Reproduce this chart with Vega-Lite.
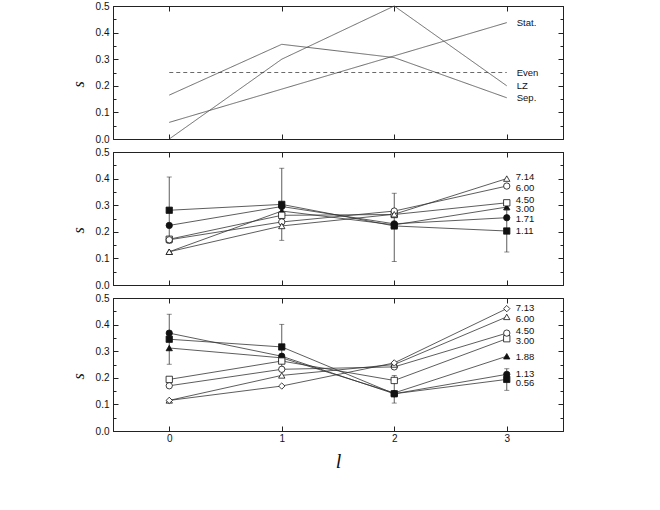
{
  "$schema": "https://vega.github.io/schema/vega-lite/v6.json",
  "background": "white",
  "padding": {"left": 69, "top": 0, "right": 5, "bottom": 5},
  "spacing": 13,
  "bounds": "flush",
  "config": {
    "view": {"stroke": "#222", "strokeWidth": 1},
    "axis": {"domainColor": "#222", "tickColor": "#222", "labelFont": "Liberation Sans", "labelFontSize": 10, "labelColor": "#111", "grid": false, "titleFont": "Liberation Serif", "titleFontStyle": "italic", "titleFontWeight": "normal", "titleColor": "#111", "labelFlush": false},
    "text": {"font": "Liberation Sans", "fontSize": 9.5, "color": "#111"}
  },
  "resolve": {"scale": {"shape": "independent", "fill": "independent", "strokeDash": "independent"}},
  "datasets": {
    "top": [
      {"l": 0, "s": 0.0625, "series": "Stat."}, {"l": 1, "s": 0.1875, "series": "Stat."}, {"l": 2, "s": 0.3125, "series": "Stat."}, {"l": 3, "s": 0.4375, "series": "Stat."},
      {"l": 0, "s": 0.25, "series": "Even"}, {"l": 1, "s": 0.25, "series": "Even"}, {"l": 2, "s": 0.25, "series": "Even"}, {"l": 3, "s": 0.25, "series": "Even"},
      {"l": 0, "s": 0.0, "series": "LZ"}, {"l": 1, "s": 0.3, "series": "LZ"}, {"l": 2, "s": 0.5, "series": "LZ"}, {"l": 3, "s": 0.2, "series": "LZ"},
      {"l": 0, "s": 0.165, "series": "Sep."}, {"l": 1, "s": 0.356, "series": "Sep."}, {"l": 2, "s": 0.306, "series": "Sep."}, {"l": 3, "s": 0.155, "series": "Sep."}
    ],
    "mid": [
      {"l": 0, "s": 0.281, "series": "1.11"}, {"l": 1, "s": 0.303, "series": "1.11"}, {"l": 2, "s": 0.222, "series": "1.11"}, {"l": 3, "s": 0.203, "series": "1.11"},
      {"l": 0, "s": 0.224, "series": "1.71"}, {"l": 1, "s": 0.295, "series": "1.71"}, {"l": 2, "s": 0.23, "series": "1.71"}, {"l": 3, "s": 0.253, "series": "1.71"},
      {"l": 0, "s": 0.125, "series": "3.00"}, {"l": 1, "s": 0.278, "series": "3.00"}, {"l": 2, "s": 0.226, "series": "3.00"}, {"l": 3, "s": 0.293, "series": "3.00"},
      {"l": 0, "s": 0.172, "series": "4.50"}, {"l": 1, "s": 0.262, "series": "4.50"}, {"l": 2, "s": 0.265, "series": "4.50"}, {"l": 3, "s": 0.309, "series": "4.50"},
      {"l": 0, "s": 0.17, "series": "6.00"}, {"l": 1, "s": 0.237, "series": "6.00"}, {"l": 2, "s": 0.278, "series": "6.00"}, {"l": 3, "s": 0.372, "series": "6.00"},
      {"l": 0, "s": 0.125, "series": "7.14"}, {"l": 1, "s": 0.222, "series": "7.14"}, {"l": 2, "s": 0.266, "series": "7.14"}, {"l": 3, "s": 0.4, "series": "7.14"}
    ],
    "miderr": [
      {"l": 0, "lo": 0.156, "hi": 0.406}, {"l": 1, "lo": 0.168, "hi": 0.439}, {"l": 2, "lo": 0.088, "hi": 0.345}, {"l": 3, "lo": 0.124, "hi": 0.282}
    ],
    "bot": [
      {"l": 0, "s": 0.345, "series": "0.56"}, {"l": 1, "s": 0.316, "series": "0.56"}, {"l": 2, "s": 0.14, "series": "0.56"}, {"l": 3, "s": 0.194, "series": "0.56"},
      {"l": 0, "s": 0.368, "series": "1.13"}, {"l": 1, "s": 0.281, "series": "1.13"}, {"l": 2, "s": 0.14, "series": "1.13"}, {"l": 3, "s": 0.213, "series": "1.13"},
      {"l": 0, "s": 0.312, "series": "1.88"}, {"l": 1, "s": 0.275, "series": "1.88"}, {"l": 2, "s": 0.143, "series": "1.88"}, {"l": 3, "s": 0.281, "series": "1.88"},
      {"l": 0, "s": 0.194, "series": "3.00"}, {"l": 1, "s": 0.263, "series": "3.00"}, {"l": 2, "s": 0.19, "series": "3.00"}, {"l": 3, "s": 0.347, "series": "3.00"},
      {"l": 0, "s": 0.17, "series": "4.50"}, {"l": 1, "s": 0.232, "series": "4.50"}, {"l": 2, "s": 0.241, "series": "4.50"}, {"l": 3, "s": 0.368, "series": "4.50"},
      {"l": 0, "s": 0.115, "series": "6.00"}, {"l": 1, "s": 0.209, "series": "6.00"}, {"l": 2, "s": 0.25, "series": "6.00"}, {"l": 3, "s": 0.429, "series": "6.00"},
      {"l": 0, "s": 0.115, "series": "7.13"}, {"l": 1, "s": 0.169, "series": "7.13"}, {"l": 2, "s": 0.256, "series": "7.13"}, {"l": 3, "s": 0.46, "series": "7.13"}
    ],
    "boterr": [
      {"l": 0, "lo": 0.251, "hi": 0.439}, {"l": 1, "lo": 0.231, "hi": 0.401}, {"l": 2, "lo": 0.105, "hi": 0.209}, {"l": 3, "lo": 0.153, "hi": 0.234}
    ]
  },
  "vconcat": [
    {
      "width": 450, "height": 133,
      "data": {"name": "top"},
      "layer": [
        {
          "mark": {"type": "line", "strokeWidth": 0.8, "color": "#444"},
          "encoding": {
            "x": {"field": "l", "type": "quantitative", "scale": {"domain": [-0.5, 3.5], "nice": false, "zero": false}, "axis": {"orient": "bottom", "values": [0, 1, 2, 3], "tickSize": -5, "labels": false, "title": null}},
            "y": {"field": "s", "type": "quantitative", "scale": {"domain": [0, 0.5], "nice": false}, "axis": {"orient": "left", "values": [0, 0.05, 0.1, 0.15, 0.2, 0.25, 0.3, 0.35, 0.4, 0.45, 0.5], "labelExpr": "round(datum.value*100) % 10 == 0 ? format(datum.value, '.1f') : ''", "tickSize": {"condition": {"test": "round(datum.value*100) % 10 == 0", "value": -5}, "value": -3}, "labelPadding": 9, "title": "s", "titleFontSize": 16, "titleY": 78, "titlePadding": 9}},
            "detail": {"field": "series"},
            "strokeDash": {"field": "series", "type": "nominal", "scale": {"domain": ["Stat.", "Even", "LZ", "Sep."], "range": [[1, 0], [4, 3], [1, 0], [1, 0]]}, "legend": null}
          }
        },
        {
          "transform": [{"filter": "datum.l == 3"}],
          "mark": {"type": "text", "align": "left", "baseline": "middle", "dx": 10},
          "encoding": {
            "x": {"field": "l", "type": "quantitative", "axis": null},
            "y": {"field": "s", "type": "quantitative", "axis": null},
            "text": {"field": "series"}
          }
        },
        {
          "mark": {"type": "point", "opacity": 0},
          "encoding": {
            "x": {"field": "l", "type": "quantitative", "axis": {"orient": "top", "values": [0, 1, 2, 3], "tickSize": -5, "labels": false, "title": null}},
            "y": {"field": "s", "type": "quantitative", "axis": {"orient": "right", "values": [0, 0.05, 0.1, 0.15, 0.2, 0.25, 0.3, 0.35, 0.4, 0.45, 0.5], "labels": false, "title": null, "tickSize": {"condition": {"test": "round(datum.value*100) % 10 == 0", "value": -5}, "value": -3}}}
          }
        }
      ],
      "resolve": {"axis": {"x": "independent", "y": "independent"}}
    },
    {
      "width": 450, "height": 133,
      "data": {"name": "mid"},
      "layer": [
        {
          "mark": {"type": "line", "strokeWidth": 0.8, "color": "#333"},
          "encoding": {
            "x": {"field": "l", "type": "quantitative", "scale": {"domain": [-0.5, 3.5], "nice": false, "zero": false}, "axis": {"orient": "bottom", "values": [0, 1, 2, 3], "tickSize": -5, "labels": false, "title": null}},
            "y": {"field": "s", "type": "quantitative", "scale": {"domain": [0, 0.5], "nice": false}, "axis": {"orient": "left", "values": [0, 0.05, 0.1, 0.15, 0.2, 0.25, 0.3, 0.35, 0.4, 0.45, 0.5], "labelExpr": "round(datum.value*100) % 10 == 0 ? format(datum.value, '.1f') : ''", "tickSize": {"condition": {"test": "round(datum.value*100) % 10 == 0", "value": -5}, "value": -3}, "labelPadding": 9, "title": "s", "titleFontSize": 16, "titleY": 78, "titlePadding": 9}},
            "detail": {"field": "series"}
          }
        },
        {
          "data": {"name": "miderr"},
          "mark": {"type": "rule", "strokeWidth": 0.8, "color": "#333"},
          "encoding": {
            "x": {"field": "l", "type": "quantitative", "axis": null},
            "y": {"field": "lo", "type": "quantitative", "axis": null},
            "y2": {"field": "hi"}
          }
        },
        {
          "data": {"name": "miderr"},
          "mark": {"type": "tick", "orient": "horizontal", "size": 5, "thickness": 0.8, "color": "#333"},
          "encoding": {
            "x": {"field": "l", "type": "quantitative", "axis": null},
            "y": {"field": "lo", "type": "quantitative", "axis": null}
          }
        },
        {
          "data": {"name": "miderr"},
          "mark": {"type": "tick", "orient": "horizontal", "size": 5, "thickness": 0.8, "color": "#333"},
          "encoding": {
            "x": {"field": "l", "type": "quantitative", "axis": null},
            "y": {"field": "hi", "type": "quantitative", "axis": null}
          }
        },
        {
          "mark": {"type": "point", "filled": true, "stroke": "#111", "strokeWidth": 0.8, "size": 40, "opacity": 1},
          "encoding": {
            "x": {"field": "l", "type": "quantitative", "axis": null},
            "y": {"field": "s", "type": "quantitative", "axis": null},
            "shape": {"field": "series", "type": "nominal", "scale": {"domain": ["1.11", "1.71", "3.00", "4.50", "6.00", "7.14"], "range": ["square", "circle", "triangle-up", "square", "circle", "triangle-up"]}, "legend": null},
            "fill": {"field": "series", "type": "nominal", "scale": {"domain": ["1.11", "1.71", "3.00", "4.50", "6.00", "7.14"], "range": ["#111", "#111", "#111", "white", "white", "white"]}, "legend": null}
          }
        },
        {
          "transform": [{"filter": "datum.l == 3"}],
          "mark": {"type": "text", "align": "left", "baseline": "middle", "dx": 9, "dy": {"expr": "datum.series == '7.14' ? -1.5 : datum.series == '6.00' ? 2 : datum.series == '4.50' ? -3 : datum.series == '3.00' ? 2 : datum.series == '1.71' ? 1 : 0"}},
          "encoding": {
            "x": {"field": "l", "type": "quantitative", "axis": null},
            "y": {"field": "s", "type": "quantitative", "axis": null},
            "text": {"field": "series"}
          }
        },
        {
          "mark": {"type": "point", "opacity": 0},
          "encoding": {
            "x": {"field": "l", "type": "quantitative", "axis": {"orient": "top", "values": [0, 1, 2, 3], "tickSize": -5, "labels": false, "title": null}},
            "y": {"field": "s", "type": "quantitative", "axis": {"orient": "right", "values": [0, 0.05, 0.1, 0.15, 0.2, 0.25, 0.3, 0.35, 0.4, 0.45, 0.5], "labels": false, "title": null, "tickSize": {"condition": {"test": "round(datum.value*100) % 10 == 0", "value": -5}, "value": -3}}}
          }
        }
      ],
      "resolve": {"axis": {"x": "independent", "y": "independent"}}
    },
    {
      "width": 450, "height": 133,
      "data": {"name": "bot"},
      "layer": [
        {
          "mark": {"type": "line", "strokeWidth": 0.8, "color": "#333"},
          "encoding": {
            "x": {"field": "l", "type": "quantitative", "scale": {"domain": [-0.5, 3.5], "nice": false, "zero": false}, "axis": {"orient": "bottom", "values": [0, 1, 2, 3], "tickSize": -5, "labelPadding": 7, "title": "l", "titleFontSize": 20, "titlePadding": 8}},
            "y": {"field": "s", "type": "quantitative", "scale": {"domain": [0, 0.5], "nice": false}, "axis": {"orient": "left", "values": [0, 0.05, 0.1, 0.15, 0.2, 0.25, 0.3, 0.35, 0.4, 0.45, 0.5], "labelExpr": "round(datum.value*100) % 10 == 0 ? format(datum.value, '.1f') : ''", "tickSize": {"condition": {"test": "round(datum.value*100) % 10 == 0", "value": -5}, "value": -3}, "labelPadding": 9, "title": "s", "titleFontSize": 16, "titleY": 78, "titlePadding": 9}},
            "detail": {"field": "series"}
          }
        },
        {
          "data": {"name": "boterr"},
          "mark": {"type": "rule", "strokeWidth": 0.8, "color": "#333"},
          "encoding": {
            "x": {"field": "l", "type": "quantitative", "axis": null},
            "y": {"field": "lo", "type": "quantitative", "axis": null},
            "y2": {"field": "hi"}
          }
        },
        {
          "data": {"name": "boterr"},
          "mark": {"type": "tick", "orient": "horizontal", "size": 5, "thickness": 0.8, "color": "#333"},
          "encoding": {
            "x": {"field": "l", "type": "quantitative", "axis": null},
            "y": {"field": "lo", "type": "quantitative", "axis": null}
          }
        },
        {
          "data": {"name": "boterr"},
          "mark": {"type": "tick", "orient": "horizontal", "size": 5, "thickness": 0.8, "color": "#333"},
          "encoding": {
            "x": {"field": "l", "type": "quantitative", "axis": null},
            "y": {"field": "hi", "type": "quantitative", "axis": null}
          }
        },
        {
          "mark": {"type": "point", "filled": true, "stroke": "#111", "strokeWidth": 0.8, "size": 40, "opacity": 1},
          "encoding": {
            "x": {"field": "l", "type": "quantitative", "axis": null},
            "y": {"field": "s", "type": "quantitative", "axis": null},
            "shape": {"field": "series", "type": "nominal", "scale": {"domain": ["0.56", "1.13", "1.88", "3.00", "4.50", "6.00", "7.13"], "range": ["square", "circle", "triangle-up", "square", "circle", "triangle-up", "diamond"]}, "legend": null},
            "fill": {"field": "series", "type": "nominal", "scale": {"domain": ["0.56", "1.13", "1.88", "3.00", "4.50", "6.00", "7.13"], "range": ["#111", "#111", "#111", "white", "white", "white", "white"]}, "legend": null}
          }
        },
        {
          "transform": [{"filter": "datum.l == 3"}],
          "mark": {"type": "text", "align": "left", "baseline": "middle", "dx": 9, "dy": {"expr": "datum.series == '7.13' ? -1 : datum.series == '6.00' ? 2 : datum.series == '4.50' ? -2 : datum.series == '3.00' ? 2 : datum.series == '1.88' ? 1 : datum.series == '0.56' ? 4 : 0"}},
          "encoding": {
            "x": {"field": "l", "type": "quantitative", "axis": null},
            "y": {"field": "s", "type": "quantitative", "axis": null},
            "text": {"field": "series"}
          }
        },
        {
          "mark": {"type": "point", "opacity": 0},
          "encoding": {
            "x": {"field": "l", "type": "quantitative", "axis": {"orient": "top", "values": [0, 1, 2, 3], "tickSize": -5, "labels": false, "title": null}},
            "y": {"field": "s", "type": "quantitative", "axis": {"orient": "right", "values": [0, 0.05, 0.1, 0.15, 0.2, 0.25, 0.3, 0.35, 0.4, 0.45, 0.5], "labels": false, "title": null, "tickSize": {"condition": {"test": "round(datum.value*100) % 10 == 0", "value": -5}, "value": -3}}}
          }
        }
      ],
      "resolve": {"axis": {"x": "independent", "y": "independent"}}
    }
  ]
}
